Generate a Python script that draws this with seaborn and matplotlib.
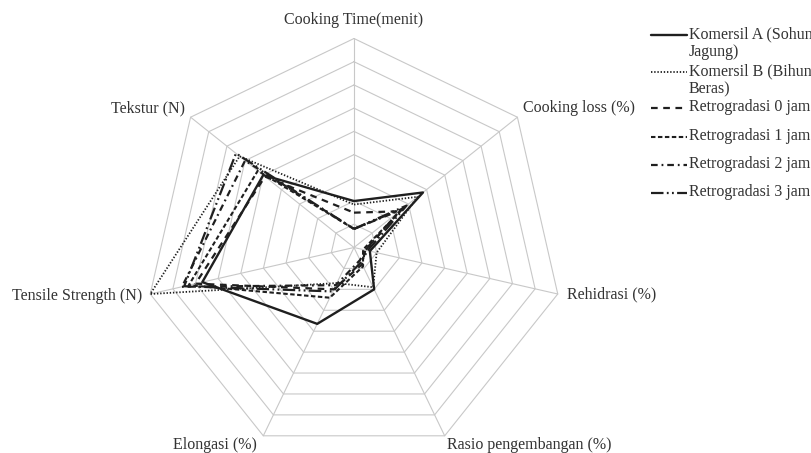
import numpy as np
import pandas as pd
import matplotlib
matplotlib.use("Agg")
import matplotlib.pyplot as plt
import seaborn as sns

# radar axes, clockwise from the top
axis_labels = ["Cooking Time(menit)", "Cooking loss (%)", "Rehidrasi (%)",
               "Rasio pengembangan (%)", "Elongasi (%)", "Tensile Strength (N)",
               "Tekstur (N)"]

# values on the chart scale (0 = centre, 9 = outer ring)
komersil_a = [2.0, 3.8, 0.7, 2.0, 3.65, 6.7, 5.0]
komersil_b = [1.85, 3.5, 1.0, 1.9, 1.7, 9.0, 6.3]
retro_0 = [1.5, 2.5, 0.5, 0.8, 2.0, 7.0, 4.9]
retro_1 = [0.8, 2.7, 0.4, 0.9, 2.4, 7.3, 5.3]
retro_2 = [0.8, 2.6, 0.5, 0.6, 1.8, 7.6, 6.0]
retro_3 = [0.8, 2.9, 0.6, 0.7, 2.1, 7.5, 6.5]

series_names = ["Komersil A (Sohun\nJagung)", "Komersil B (Bihun\nBeras)",
                "Retrogradasi 0 jam", "Retrogradasi 1 jam",
                "Retrogradasi 2 jam", "Retrogradasi 3 jam"]
series_values = [komersil_a, komersil_b, retro_0, retro_1, retro_2, retro_3]

n_rings = 9
ring_max = 9.0

# dash patterns in points (not scaled by line width)
styles = [
    dict(linestyle="-", lw=1.7),
    dict(linestyle=(0, (1.0, 1.3)), lw=1.3),
    dict(linestyle=(0, (4.8, 4.0)), lw=1.6),
    dict(linestyle=(0, (3.2, 1.8)), lw=1.5),
    dict(linestyle=(0, (4.8, 2.8, 1.3, 2.8)), lw=1.6),
    dict(linestyle=(0, (9.0, 2.4, 1.3, 2.4, 1.3, 2.4)), lw=1.6),
]
line_color = "#1f1f1f"
grid_color = "#c8c8c8"
text_color = "#333333"

sns.set_theme(style="white")
plt.rcParams["font.family"] = ["Liberation Serif", "DejaVu Serif"]
plt.rcParams["lines.scale_dashes"] = False

fig = plt.figure(figsize=(8.12, 4.53), dpi=100)
ax = fig.add_axes([0, 0, 1, 1])
ax.set_xlim(0, 812)
ax.set_ylim(453, 0)
ax.axis("off")

cx, cy, radius = 354, 247.5, 209
n_axes = len(axis_labels)
angles = np.arange(n_axes) * 2 * np.pi / n_axes
ux = np.sin(angles)
uy = -np.cos(angles)


def to_xy(vals):
    r = np.asarray(vals, dtype=float) / ring_max * radius
    x = cx + r * ux
    y = cy + r * uy
    return np.append(x, x[0]), np.append(y, y[0])


# heptagon grid
for k in range(1, n_rings + 1):
    gx, gy = to_xy([k * ring_max / n_rings] * n_axes)
    ax.plot(gx, gy, color=grid_color, lw=0.8, zorder=1)
for i in range(n_axes):
    ax.plot([cx, cx + radius * ux[i]], [cy, cy + radius * uy[i]],
            color=grid_color, lw=0.8, zorder=1)

# data polygons
for vals, st in zip(series_values, styles):
    px, py = to_xy(vals)
    df = pd.DataFrame({"x": px, "y": py})
    sns.lineplot(data=df, x="x", y="y", sort=False, estimator=None, ax=ax,
                 color=line_color, zorder=3, **st)

# axis labels
fs = 11.5
label_pos = [
    (0, -18, "center", "center"),
    (6, -9, "left", "center"),
    (9, 0, "left", "center"),
    (2, 9, "left", "center"),
    (-6, 9, "right", "center"),
    (-8, 2, "right", "center"),
    (-6, -9, "right", "center"),
]
for i, (dx, dy, ha, va) in enumerate(label_pos):
    ax.text(cx + radius * ux[i] + dx, cy + radius * uy[i] + dy, axis_labels[i],
            ha=ha, va=va, fontsize=fs, color=text_color)

# legend, drawn on the right side (first text line level with its key)
legend_y = [35, 72, 108, 137, 165, 193]
for name, st, y in zip(series_names, styles, legend_y):
    ax.plot([651, 687], [y, y], color=line_color, **st)
    ax.text(689, y - 9, name, ha="left", va="top", fontsize=fs,
            color=text_color, linespacing=1.2)

fig.savefig("out.png", dpi=100)
